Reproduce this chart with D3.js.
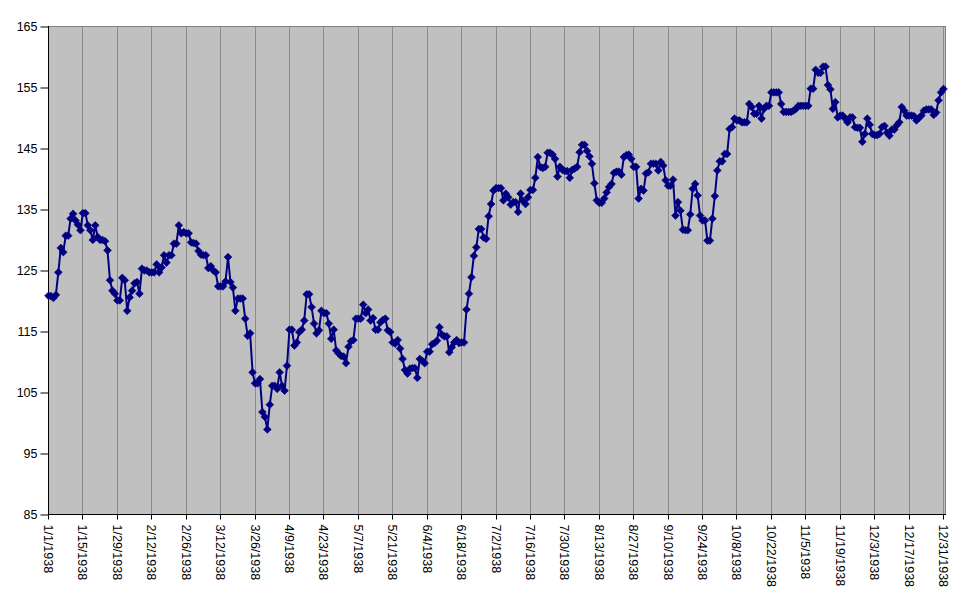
<!DOCTYPE html>
<html>
<head>
<meta charset="utf-8">
<script src="https://cdn.jsdelivr.net/npm/d3@7"></script>
<style>
  html, body { margin: 0; padding: 0; background: #ffffff; }
  svg { display: block; }
</style>
</head>
<body>
<svg id="chart" width="971" height="605"></svg>
<script>
// ---- Data: daily values for 1938 (weekends/holidays carry the previous value) ----
const jan = [120.85,120.8,120.5,121.0,124.7,128.7,128.0,130.7,130.7,133.5,134.3,133.2,132.5,131.6,134.4,134.4,132.4,131.6,130.0,132.4,130.5,130.0,130.0,129.8,128.3,123.4,121.7,121.2,120.1,120.1,123.8];
const feb = [123.4,118.4,120.6,121.7,122.9,123.1,121.2,125.3,125.0,125.0,124.7,124.7,124.7,126.0,124.7,125.5,127.5,126.3,127.5,127.5,129.4,129.4,132.4,131.1,131.3,131.1,131.1,129.6];
const mar = [129.5,129.4,128.2,127.6,127.5,127.5,125.4,125.7,125.0,124.7,122.4,122.4,122.4,123.2,127.2,123.1,122.2,118.4,120.4,120.4,120.4,117.1,114.3,114.7,108.3,106.5,106.5,107.2,101.8,101.0,98.95];
const apr = [103.0,106.1,106.1,105.6,108.3,106.1,105.3,109.4,115.3,115.3,112.7,113.2,114.9,115.3,116.8,121.1,121.1,119.0,116.3,114.7,115.2,118.4,118.0,118.0,116.3,113.8,115.3,111.9,111.4,111.0];
const may = [110.9,109.8,112.5,113.4,113.6,117.1,117.1,117.1,119.4,118.0,118.6,116.8,117.2,115.3,115.3,116.5,116.9,117.1,115.2,114.9,113.2,113.0,113.6,112.2,110.5,108.7,108.1,108.9,109.0,109.0,107.4];
const jun = [110.5,110.2,109.8,111.7,111.7,112.9,113.1,113.5,115.7,114.5,114.2,114.2,111.6,112.4,113.2,113.6,113.1,113.2,113.2,118.6,121.2,123.9,127.4,128.8,131.8,131.8,130.4,130.2,133.9,135.9];
const jul = [138.1,138.5,138.5,138.5,136.5,137.6,137.0,135.8,136.2,136.2,134.6,137.6,136.4,135.9,137.0,138.2,138.2,140.2,143.6,142.0,141.8,142.0,144.3,144.3,144.0,143.3,140.4,142.0,141.5,141.3,141.3];
const aug = [140.2,141.5,141.7,142.0,144.4,145.6,145.6,144.6,143.7,142.5,139.3,136.5,136.1,136.1,136.8,137.8,138.7,139.2,141.0,141.2,141.2,140.7,143.6,143.9,144.0,143.3,142.0,142.0,136.8,138.4,138.1];
const sep = [140.9,141.1,142.5,142.5,142.5,141.4,142.8,142.2,139.8,138.9,138.9,139.9,134.0,136.2,134.8,131.7,131.6,131.6,134.2,138.4,139.2,137.3,134.0,133.2,133.2,129.9,129.9,133.5,137.2,141.4];
const oct = [142.9,142.9,144.1,144.1,148.2,148.5,149.9,149.6,149.6,149.3,149.3,149.3,152.3,151.8,150.7,150.7,152.0,149.9,151.5,152.0,152.0,154.2,154.2,154.2,154.2,152.3,151.0,151.0,151.0,151.0,151.2];
const nov = [151.5,152.0,152.0,152.0,152.0,152.0,154.8,154.8,157.9,157.4,157.4,158.41,158.41,155.4,154.7,151.5,152.6,150.1,150.4,150.4,149.9,149.3,150.1,150.1,148.5,148.4,148.4,146.1,147.4,149.9];
const dec = [148.9,147.4,147.2,147.2,147.4,148.5,148.7,147.6,147.1,148.1,148.1,148.8,149.3,151.8,151.2,150.4,150.4,150.4,150.3,149.6,150.0,150.4,151.2,151.4,151.4,151.4,150.5,150.9,152.9,154.2,154.76];

const months = [jan, feb, mar, apr, may, jun, jul, aug, sep, oct, nov, dec];
const yTicks = [85, 95, 105, 115, 125, 135, 145, 155, 165];
const xTickLabels = ["1/1/1938","1/15/1938","1/29/1938","2/12/1938","2/26/1938","3/12/1938","3/26/1938",
  "4/9/1938","4/23/1938","5/7/1938","5/21/1938","6/4/1938","6/18/1938","7/2/1938","7/16/1938","7/30/1938",
  "8/13/1938","8/27/1938","9/10/1938","9/24/1938","10/8/1938","10/22/1938","11/5/1938","11/19/1938",
  "12/3/1938","12/17/1938","12/31/1938"];

// ---- Build series ----
const series = [];
months.forEach((arr, m) => arr.forEach((v, i) => series.push({ date: new Date(Date.UTC(1938, m, i + 1)), value: v })));

const parse = d3.utcParse("%m/%d/%Y");
const tickDates = xTickLabels.map(parse);

// ---- Layout ----
const plotLeft = 48.5, plotRight = 945.5, plotTop = 26.5, plotBottom = 514.5;
const font = "'Liberation Sans', Arial, Helvetica, sans-serif";

const x = d3.scaleUtc()
  .domain([new Date(Date.UTC(1938, 0, 1)), new Date(Date.UTC(1938, 11, 31))])
  .range([48.5, 943.5]);
const y = d3.scaleLinear().domain([85, 165]).range([plotBottom, plotTop]);

const svg = d3.select("#chart");
svg.append("rect").attr("x", 0).attr("y", 0).attr("width", 971).attr("height", 605).attr("fill", "#ffffff");

// plot area
svg.append("rect")
  .attr("x", plotLeft).attr("y", plotTop)
  .attr("width", plotRight - plotLeft).attr("height", plotBottom - plotTop)
  .attr("fill", "#c0c0c0").attr("stroke", "#808080").attr("stroke-width", 1);

// vertical gridlines
svg.append("g").selectAll("line").data(tickDates.slice(1)).join("line")
  .attr("x1", d => Math.round(x(d) - 0.5) + 0.5).attr("x2", d => Math.round(x(d) - 0.5) + 0.5)
  .attr("y1", plotTop).attr("y2", plotBottom)
  .attr("stroke", "#8c8c8c").attr("stroke-width", 1);

// x axis
const xAxis = d3.axisBottom(x)
  .tickValues(tickDates)
  .tickFormat(d3.utcFormat("%-m/%-d/%Y"))
  .tickSize(5).tickSizeOuter(0).tickPadding(0);
const gx = svg.append("g").attr("transform", `translate(0,${plotBottom})`).call(xAxis);
gx.select(".domain").remove();
gx.selectAll(".tick").attr("transform", d => `translate(${Math.round(x(d) - 0.5) + 0.5},0)`);
gx.selectAll(".tick line").attr("stroke", "#000");
gx.selectAll(".tick text")
  .attr("transform", "rotate(90)")
  .attr("x", 10).attr("y", 0).attr("dy", "0.36em")
  .attr("text-anchor", "start")
  .attr("fill", "#000")
  .style("font-family", font).style("font-size", "12.5px");

// y axis
const yAxis = d3.axisLeft(y).tickValues(yTicks).tickFormat(d3.format("d"))
  .tickSize(8).tickSizeOuter(0).tickPadding(3);
const gy = svg.append("g").attr("transform", `translate(${plotLeft},0)`).call(yAxis);
gy.select(".domain").remove();
gy.selectAll(".tick line").attr("stroke", "#000");
gy.selectAll(".tick text").attr("fill", "#000")
  .style("font-family", font).style("font-size", "12.5px");

// axis lines (black left and bottom)
svg.append("line").attr("x1", plotLeft).attr("x2", plotLeft).attr("y1", plotTop - 0.5).attr("y2", plotBottom + 0.5)
  .attr("stroke", "#000").attr("stroke-width", 1);
svg.append("line").attr("x1", plotLeft - 0.5).attr("x2", plotRight + 0.5).attr("y1", plotBottom).attr("y2", plotBottom)
  .attr("stroke", "#000").attr("stroke-width", 1);

// series line
const line = d3.line().x(d => x(d.date)).y(d => y(d.value));
svg.append("path").datum(series)
  .attr("d", line)
  .attr("fill", "none").attr("stroke", "#000080").attr("stroke-width", 2)
  .attr("stroke-linejoin", "round");

// diamond markers
const diamond = d3.symbol().type(d3.symbolSquare).size(30);
svg.append("g").selectAll("path").data(series).join("path")
  .attr("d", diamond)
  .attr("transform", d => `translate(${x(d.date)},${y(d.value)}) rotate(45)`)
  .attr("fill", "#000080").attr("stroke", "#000080").attr("stroke-width", 0.6);
</script>
</body>
</html>
